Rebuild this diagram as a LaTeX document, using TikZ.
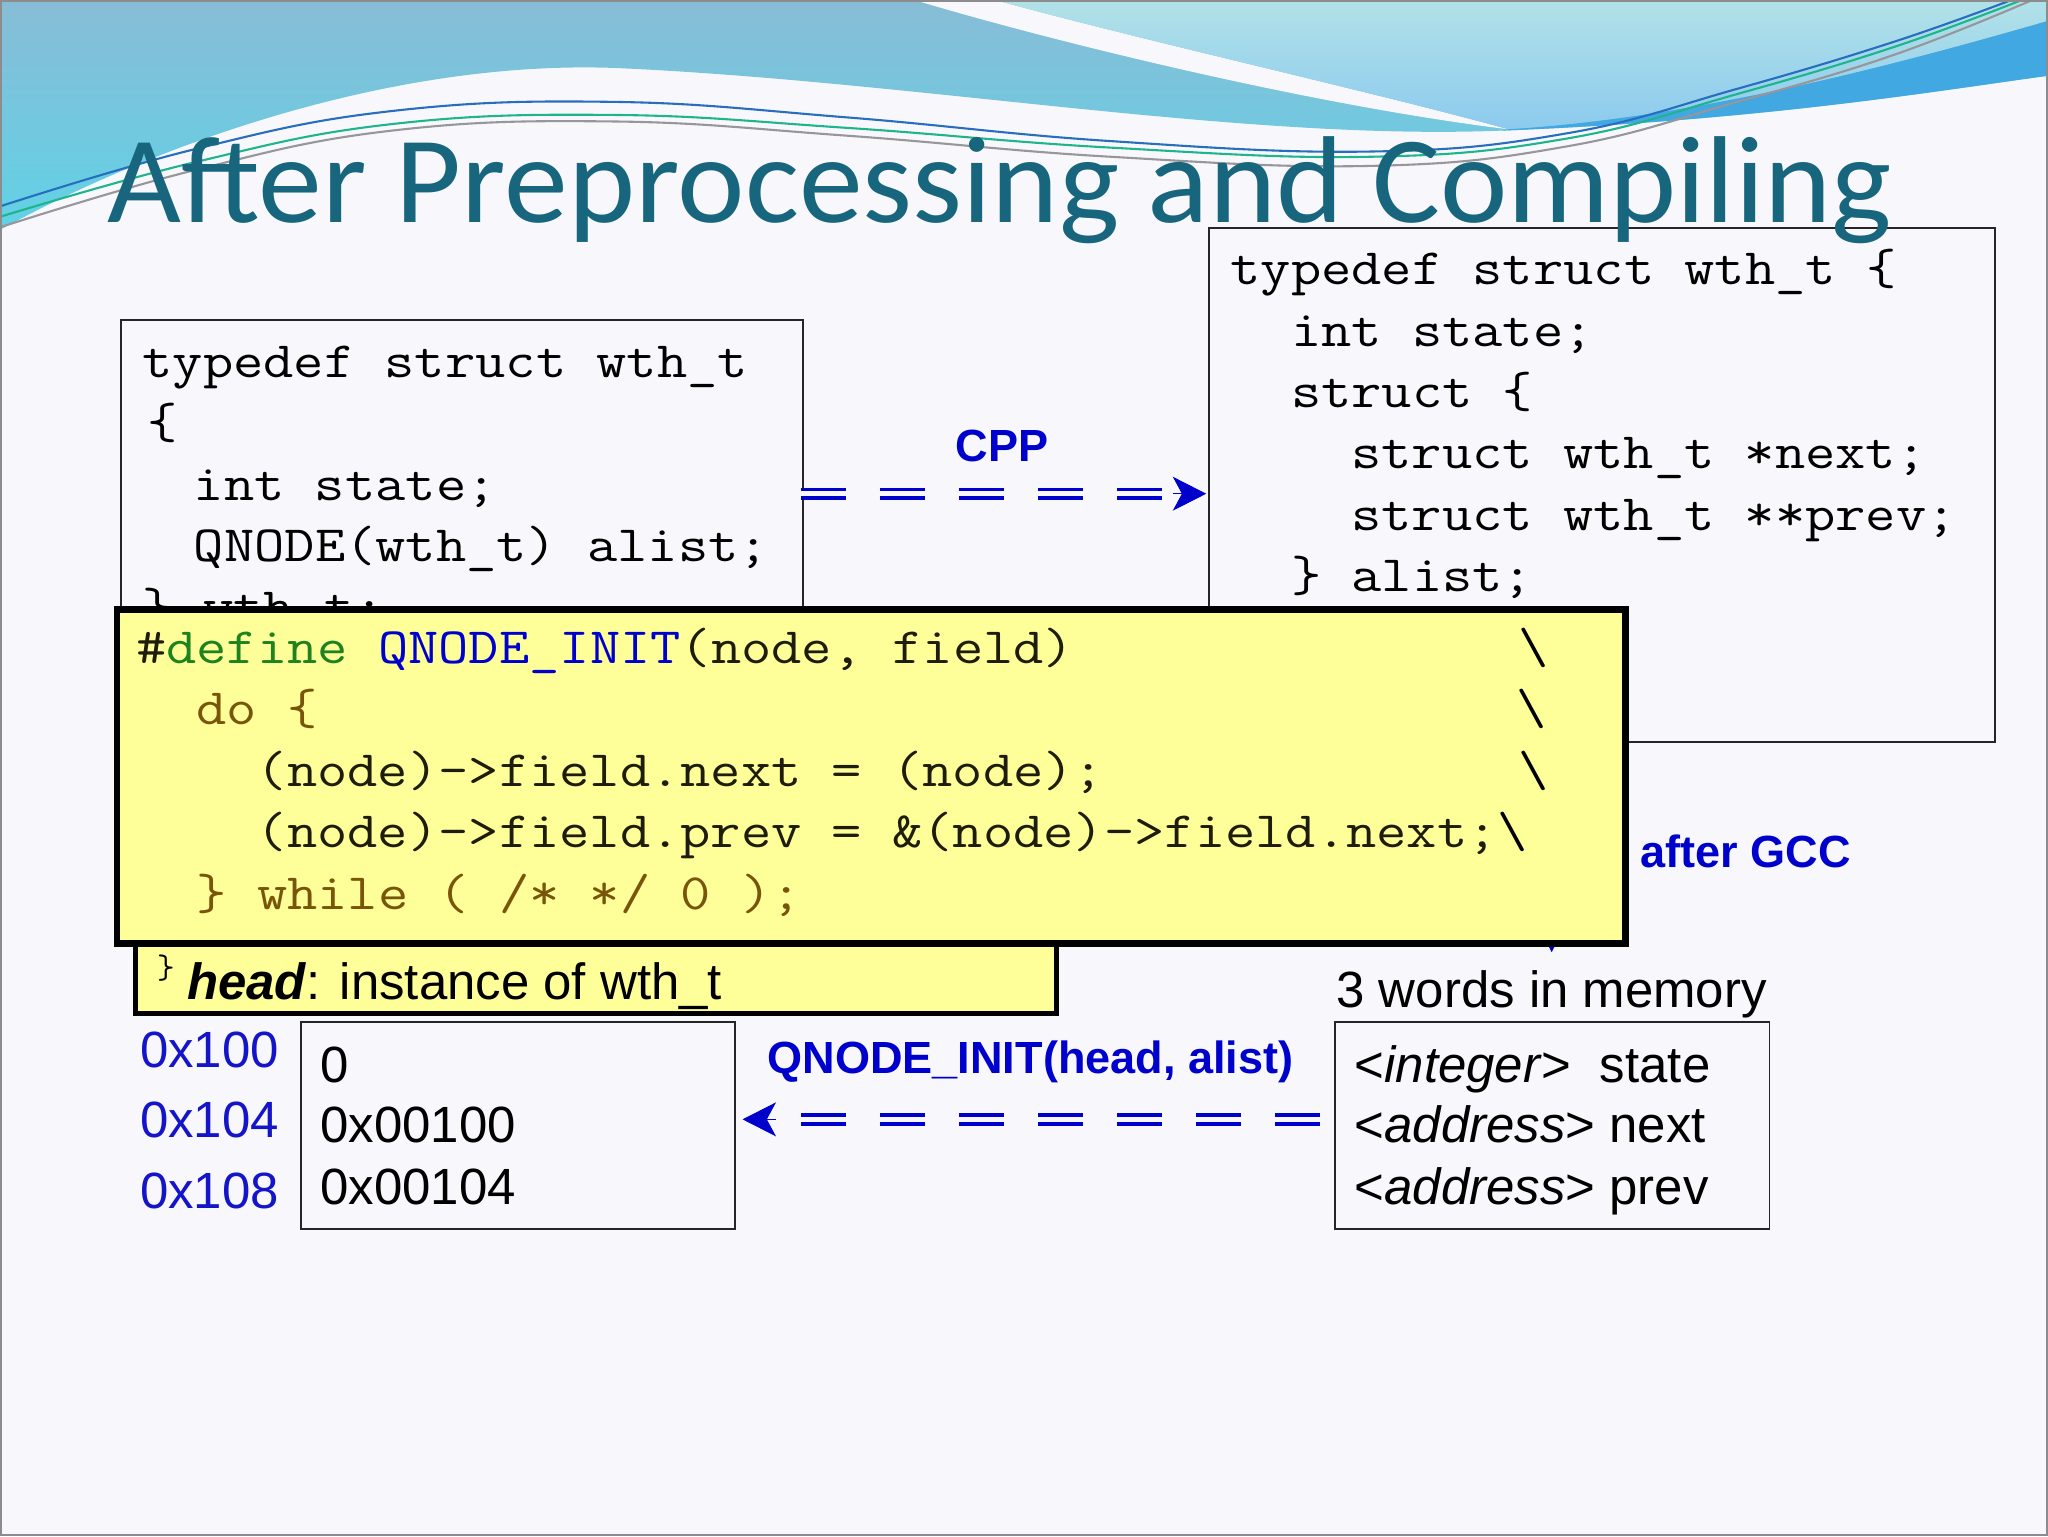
\documentclass[tikz,border=0pt]{standalone}
\usepackage{fontspec}
\usepackage{graphicx}
\usetikzlibrary{arrows.meta}
\setmainfont{Liberation Sans}
\newfontfamily\titlefont{Carlito}
\definecolor{bgcol}{RGB}{248,248,252}
\definecolor{qblue}{RGB}{0,0,204}
\definecolor{titlecol}{RGB}{24,102,126}
\definecolor{yfill}{RGB}{255,255,153}
\definecolor{defgreen}{RGB}{30,130,30}
\definecolor{kwbrown}{RGB}{120,85,10}
\definecolor{codedark}{RGB}{30,28,10}
\definecolor{addrblue}{RGB}{20,20,200}
\definecolor{waveA}{RGB}{136,188,214}
\definecolor{waveB}{RGB}{96,210,230}
\definecolor{waveC}{RGB}{178,226,232}
\definecolor{waveD}{RGB}{140,202,238}
\definecolor{waveBand}{RGB}{66,168,226}
\definecolor{lgreen}{RGB}{30,180,140}
\definecolor{lblue}{RGB}{40,110,190}
\definecolor{lgray}{RGB}{150,150,155}
\newcommand{\codewide}[1]{\scalebox{1.1535}[1]{#1}}
\newcommand{\col}[1]{\hspace*{#1\dimexpr 20.05pt\relax}}
\tikzset{
  codebox/.style={draw=black!85, line width=1.5pt, inner sep=0pt, anchor=north west},
  codetext/.style={anchor=base west, inner sep=0pt, font={\ttfamily\fontsize{39}{47}\selectfont}},
  sanstext/.style={anchor=base west, inner sep=0pt, font={\fontsize{39}{47}\selectfont}},
  bluelabel/.style={anchor=base, inner sep=0pt, text=qblue, font={\bfseries\fontsize{34.5}{40}\selectfont}},
  dbl/.style={draw=qblue, line width=2.8pt, double=bgcol, double distance=3.8pt, dash pattern=on 34.5pt off 26pt},
  tipst/.style={draw=qblue, fill=qblue, line width=0.8pt, -{Stealth[length=25.6pt, width=26pt, inset=7pt]}},
  yellowbox/.style={draw=black, fill=yfill, inner sep=0pt, anchor=north west},
}
\begin{document}
\begin{tikzpicture}[x=1pt, y=-1pt]
\useasboundingbox (0,0) rectangle (1568,1176);
% background
\fill[bgcol] (0,0) rectangle (1568,1176);
% waves
\shade[top color=waveA, bottom color=waveB] (0,0) -- (1568,0) -- (1568,58) .. controls (1480,70) and (1350,92) .. (1150,100) .. controls (950,108) and (700,62) .. (470,52) .. controls (300,46) and (120,110) .. (0,176) -- cycle;
\fill[bgcol] (700,0) .. controls (800,30) and (1000,80) .. (1155,99) .. controls (1050,70) and (870,30) .. (762,0) -- cycle;
\shade[top color=waveC, bottom color=waveD] (762,0) .. controls (870,30) and (1050,70) .. (1155,99) .. controls (1300,90) and (1450,50) .. (1568,16) -- (1568,0) -- cycle;
\fill[waveBand] (1155,99) .. controls (1300,90) and (1450,50) .. (1568,16) -- (1568,58) .. controls (1480,70) and (1350,92) .. (1150,100) -- cycle;
\draw[lblue, line width=1.6pt] plot[smooth, tension=0.7] coordinates {(0,158) (150,114) (300,85) (470,78) (650,90) (850,108) (1050,116) (1200,102) (1330,68) (1450,32) (1540,0)};
\draw[lgreen, line width=1.6pt] plot[smooth, tension=0.7] coordinates {(0,166) (150,124) (300,95) (470,88) (650,98) (850,113) (1050,120) (1200,106) (1330,72) (1450,36) (1548,0)};
\draw[lgray, line width=1.6pt] plot[smooth, tension=0.7] coordinates {(0,174) (150,130) (300,100) (470,93) (650,104) (850,120) (1050,127) (1200,112) (1330,78) (1450,42) (1556,0)};
\draw[black!45, line width=1.2pt] (0.6,0.6) rectangle (1567.4,1175.4);

% left code box
\node[codebox, minimum width=522pt, minimum height=300pt] (box1) at (92,244) {};
\node[codetext] (code1) at (109,289) {\codewide{\begin{tabular}[t]{@{}l@{}}
typedef struct wth\_t\\
\hspace*{3pt}\{\\
\col{1.7}int state;\\
\col{1.7}QNODE(wth\_t) alist;\\
\} wth\_t;
\end{tabular}}};

% right code box
\node[codebox, minimum width=602pt, minimum height=393pt] (box2) at (925,174) {};
\node[codetext] (code2) at (942,218) {\codewide{\begin{tabular}[t]{@{}l@{}}
typedef struct wth\_t \{\\
\col{2}int state;\\
\col{2}struct \{\\
\col{4}struct wth\_t *next;\\
\col{4}struct wth\_t **prev;\\
\col{2}\} alist;
\end{tabular}}};

% CPP arrow
\coordinate (cppS) at (613,378);
\coordinate (cppB) at (898,378);
\coordinate (cppT) at (923.5,378);
\draw[dbl] (cppS) -- (cppB);
\draw[tipst] (cppB) -- (cppT);
\node[bluelabel] (cpp) at (767,353) {CPP};

% vertical arrow (after GCC), mostly hidden
\coordinate (gccS) at (1188,567);
\coordinate (gccB) at (1188,703.4);
\coordinate (gccT) at (1188,729);
\draw[dbl] (gccS) -- (gccB);
\draw[tipst] (gccB) -- (gccT);

% head box
\node[yellowbox, line width=4pt, minimum width=705pt, minimum height=54pt] (headbox) at (102,720) {};
\node[anchor=center, inner sep=0pt, font={\ttfamily\fontsize{26}{28}\selectfont}] (brace) at (127,741) {\}};
\node[sanstext] (headtxt) at (143,765) {\textbf{\textit{head}}: instance of wth\_t};

% macro box
\node[yellowbox, line width=5pt, minimum width=1155pt, minimum height=256pt] (macro) at (87,464) {};
\node[codetext, text=codedark] (code3) at (104,508) {\codewide{\begin{tabular}[t]{@{}l@{}}
\#\textcolor{defgreen}{define} \textcolor{qblue}{QNODE\_INIT}(node, field)\col{14.7}\textcolor{black}{\textbackslash}\\
\col{2}\textcolor{kwbrown}{do \{}\col{39.7}\textcolor{black}{\textbackslash}\\
\col{4}(node)->field.next = (node);\col{13.7}\textcolor{black}{\textbackslash}\\
\col{4}(node)->field.prev = \&(node)->field.next;\textcolor{black}{\textbackslash}\\
\col{2}\textcolor{kwbrown}{\} while ( /* */ 0 );}
\end{tabular}}};

\node[bluelabel, anchor=base west] (gcc) at (1256,664) {after GCC};

% memory
\node[sanstext, anchor=base] (words) at (1188,771) {3 words in memory};
\node[codebox, minimum width=332pt, minimum height=158pt] (mem1) at (230,782) {};
\node[codebox, minimum width=333pt, minimum height=158pt] (mem2) at (1021,782) {};
\node[sanstext, text=addrblue] (a100) at (107,817) {0x100};
\node[sanstext, text=addrblue] (a104) at (107,871) {0x104};
\node[sanstext, text=addrblue] (a108) at (107,925) {0x108};
\node[sanstext] (v1) at (245,829) {0};
\node[sanstext] (v2) at (245,875) {0x00100};
\node[sanstext] (v3) at (245,922) {0x00104};
\node[sanstext] (f1) at (1037,829) {<\textit{integer}>\ \ state};
\node[sanstext] (f2) at (1037,875) {<\textit{address}> next};
\node[sanstext] (f3) at (1037,922) {<\textit{address}> prev};

% QNODE_INIT arrow
\coordinate (qiS) at (1010.7,857);
\coordinate (qiB) at (594,857);
\coordinate (qiT) at (568.5,857);
\draw[dbl] (qiS) -- (qiB);
\draw[tipst] (qiB) -- (qiT);
\node[bluelabel] (qinit) at (789,822) {QNODE\_INIT(head, alist)};

% title
\node[anchor=base west, inner sep=0pt, text=titlecol] (title) at (82,170) {\resizebox{1366pt}{\height}{\titlefont\fontsize{94.7}{100}\selectfont After Preprocessing and Compiling}};
\end{tikzpicture}
\end{document}
